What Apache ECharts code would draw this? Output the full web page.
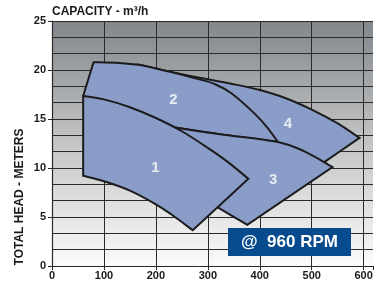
<!DOCTYPE html>
<html>
<head>
<meta charset="utf-8">
<script src="https://cdn.jsdelivr.net/npm/echarts@6/dist/echarts.min.js"></script>
<style>
  html, body { margin: 0; padding: 0; background: #fff; }
  #chart { width: 376px; height: 281px; }
</style>
</head>
<body>
<div id="chart"></div>
<script>
// pump coverage areas, [capacity m3/h, head m]; each area is a list of edges
// (curved edges have more than two points, the last point of an edge starts the next one)
var region1 = [
  [[60, 9.2], [60, 17.35]],
  [[60, 17.35], [100, 17.0], [150, 16.2], [200, 15.1], [250, 13.75], [300, 12.05], [340, 10.55], [378, 8.9]],
  [[378, 8.9], [271, 3.65]],
  [[271, 3.65], [230, 5.25], [200, 6.3], [150, 7.7], [100, 8.65], [60, 9.2]]
];
var region2 = [
  [[60, 17.35], [80, 20.8]],
  [[80, 20.8], [130, 20.72], [170, 20.5], [200, 20.15], [231, 19.77]],
  [[231, 19.77], [280, 19.1], [314, 18.55], [346, 17.6], [391, 15.5], [415, 14.1], [435, 12.65]],
  [[435, 12.65], [330, 13.4], [215, 14.3]],
  [[215, 14.3], [60, 17.35]]
];
var region3 = [
  [[215, 14.3], [270, 13.85], [330, 13.4], [435, 12.65], [486, 11.7], [540, 10.1]],
  [[540, 10.1], [376, 4.2]],
  [[376, 4.2], [320, 5.96], [280, 7.3]],
  [[280, 7.3], [215, 14.3]]
];
var region4 = [
  [[170, 20.5], [200, 20.15], [231, 19.77], [300, 19.05], [350, 18.55], [400, 17.95], [450, 17.12], [500, 15.96], [550, 14.55], [592, 13.07]],
  [[592, 13.07], [527, 10.7], [480, 9.0]],
  [[480, 9.0], [400, 11.0], [170, 20.5]]
];
var regionNames = ['1', '2', '3', '4'];
var labelPos = [[199, 10.0], [234, 16.95], [426, 8.8], [454, 14.5]];

var xMax = 618;
var yMax = 25;

var font = "'Liberation Sans', Arial, Helvetica, sans-serif";
var lineCol = '#2a2a2a';

var chart = echarts.init(document.getElementById('chart'));

// catmull-rom through the points of each edge, straight for 2-point edges
function edgePath(pts) {
  var d = '';
  if (pts.length === 2) {
    return ' L' + pts[1][0] + ' ' + pts[1][1];
  }
  for (var i = 0; i < pts.length - 1; i++) {
    var p0 = pts[Math.max(i - 1, 0)], p1 = pts[i], p2 = pts[i + 1], p3 = pts[Math.min(i + 2, pts.length - 1)];
    var c1 = [p1[0] + (p2[0] - p0[0]) / 6, p1[1] + (p2[1] - p0[1]) / 6];
    var c2 = [p2[0] - (p3[0] - p1[0]) / 6, p2[1] - (p3[1] - p1[1]) / 6];
    d += ' C' + c1[0] + ' ' + c1[1] + ' ' + c2[0] + ' ' + c2[1] + ' ' + p2[0] + ' ' + p2[1];
  }
  return d;
}

function areaSeries(edges) {
  return {
    type: 'custom',
    coordinateSystem: 'cartesian2d',
    data: [[edges[0][0][0], edges[0][0][1]]],
    silent: true,
    renderItem: function (params, api) {
      var start = api.coord(edges[0][0]);
      var d = 'M' + start[0] + ' ' + start[1];
      edges.forEach(function (edge) {
        d += edgePath(edge.map(function (p) { return api.coord(p); }));
      });
      d += ' Z';
      return {
        type: 'path',
        shape: { pathData: d },
        style: { fill: '#8a9dc8', stroke: '#1c1c1c', lineWidth: 2, lineJoin: 'miter' }
      };
    }
  };
}

chart.setOption({
  animation: false,
  title: {
    text: 'CAPACITY - m³/h',
    left: 52, top: 6, padding: 0,
    textStyle: { fontFamily: font, fontSize: 12, fontWeight: 'bold', color: '#1a1a1a' }
  },
  grid: {
    left: 52, right: 0, top: 21, bottom: 14,
    show: true, borderWidth: 0,
    backgroundColor: new echarts.graphic.LinearGradient(0, 0, 0, 1, [
      { offset: 0, color: '#81878c' },
      { offset: 0.45, color: '#bebfc0' },
      { offset: 1, color: '#fbfbfb' }
    ])
  },
  xAxis: {
    type: 'value', min: 0, max: xMax, interval: 100,
    axisLine: { lineStyle: { color: lineCol, width: 1.2 } },
    axisTick: { show: true, length: 4, lineStyle: { color: lineCol, width: 1 } },
    axisLabel: {
      margin: 4, fontFamily: font, fontSize: 11, fontWeight: 'bold', color: '#1a1a1a',
      formatter: function (v) { return v > 600 ? '' : v; }
    },
    splitLine: { show: true, showMaxLine: false, lineStyle: { color: lineCol, width: 1 } }
  },
  yAxis: {
    type: 'value', min: 0, max: yMax, interval: 5,
    axisLine: { show: true, lineStyle: { color: lineCol, width: 1.2 } },
    axisTick: { show: true, length: 4, lineStyle: { color: lineCol, width: 1 } },
    axisLabel: { margin: 6, fontFamily: font, fontSize: 11, fontWeight: 'bold', color: '#1a1a1a' },
    splitLine: { show: true, lineStyle: { color: lineCol, width: 1 } },
    minorTick: { show: false, splitNumber: 3 },
    minorSplitLine: { show: true, lineStyle: { color: lineCol, width: 1 } }
  },
  graphic: [
    {
      type: 'text', x: 20, y: 197, rotation: Math.PI / 2,
      style: {
        text: 'TOTAL HEAD - METERS', fontFamily: font, fontSize: 12, fontWeight: 'bold',
        fill: '#1a1a1a', textAlign: 'center', textVerticalAlign: 'middle'
      }
    },
    {
      type: 'rect', shape: { x: 228, y: 228, width: 123, height: 28 },
      style: { fill: '#064b8e' }, z: 100
    },
    {
      type: 'text', x: 289.5, y: 242.5, z: 101,
      style: {
        text: '@  960 RPM', fontFamily: font, fontSize: 17, fontWeight: 'bold',
        fill: '#ffffff', textAlign: 'center', textVerticalAlign: 'middle'
      }
    }
  ],
  series: [
    areaSeries(region4),
    areaSeries(region2),
    areaSeries(region3),
    areaSeries(region1),
    {
      type: 'scatter',
      symbolSize: 0,
      silent: true,
      z: 5,
      data: labelPos.map(function (p, i) { return { name: regionNames[i], value: p }; }),
      label: {
        show: true, position: 'inside', formatter: '{b}',
        fontFamily: font, fontSize: 15, fontWeight: 'bold', color: '#ffffff'
      }
    }
  ]
});
</script>
</body>
</html>
